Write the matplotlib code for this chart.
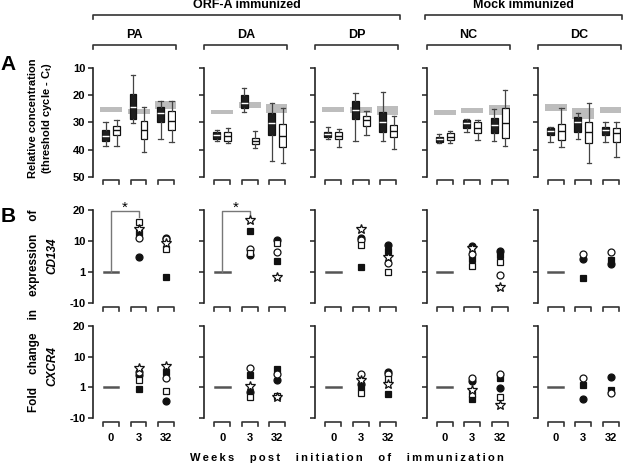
import numpy as np
import matplotlib
matplotlib.use('Agg')
import matplotlib.pyplot as plt
from matplotlib.lines import Line2D
from matplotlib import transforms

plt.rcParams['font.family'] = ['Liberation Sans', 'DejaVu Sans']
plt.rcParams['font.weight'] = 'bold'
plt.rcParams['mathtext.fontset'] = 'custom'
plt.rcParams['mathtext.rm'] = 'Liberation Sans:bold'
plt.rcParams['mathtext.it'] = 'Liberation Sans:bold'
plt.rcParams['mathtext.bf'] = 'Liberation Sans:bold'

groups = ['PA', 'DA', 'DP', 'NC', 'DC']
weeks = ['0', '3', '32']

# box stats per week: [whisker low, q1, median, q3, whisker high] (threshold cycle)
pa_filled = [[29.8, 32.8, 35.0, 36.9, 38.7], [12.6, 19.7, 24.2, 28.7, 30.2], [22.0, 24.2, 26.4, 29.8, 36.2]]
pa_open = [[29.0, 31.3, 32.8, 34.6, 38.7], [24.2, 29.4, 32.8, 36.1, 41.0], [22.0, 25.7, 29.4, 32.8, 37.0]]
da_filled = [[32.8, 33.5, 34.6, 36.0, 36.9], [17.2, 20.0, 22.7, 24.6, 26.0], [22.7, 26.4, 30.2, 34.6, 44.3]]
da_open = [[32.0, 33.5, 35.0, 36.9, 37.6], [33.1, 35.7, 36.9, 38.0, 39.5], [24.6, 30.5, 35.0, 39.1, 44.7]]
dp_filled = [[31.6, 33.5, 34.2, 35.3, 36.2], [19.0, 22.0, 25.3, 28.7, 36.9], [18.9, 26.1, 29.8, 33.5, 36.9]]
dp_open = [[32.4, 33.5, 35.0, 36.2, 39.0], [25.7, 27.6, 29.0, 31.3, 34.6], [27.6, 30.9, 33.1, 35.4, 39.8]]
nc_filled = [[34.2, 35.3, 36.2, 37.1, 37.6], [28.7, 29.0, 30.1, 32.0, 33.5], [25.0, 28.3, 30.9, 33.9, 36.9]]
nc_open = [[33.1, 34.0, 35.3, 36.5, 37.6], [29.0, 29.8, 32.0, 33.9, 36.5], [18.2, 24.6, 30.1, 35.7, 38.7]]
dc_filled = [[31.6, 32.1, 33.1, 34.6, 37.1], [26.4, 27.9, 29.8, 33.5, 36.2], [29.8, 31.6, 32.8, 34.6, 37.1]]
dc_open = [[24.6, 30.5, 33.1, 36.5, 39.0], [22.7, 29.8, 33.5, 37.6, 44.7], [29.8, 32.0, 34.0, 37.1, 42.8]]

# grey bands per week: [low, high]
pa_band = [[24.2, 26.0], [25.0, 26.8], [22.0, 25.0]]
da_band = [[25.3, 26.8], [22.4, 24.6], [23.1, 26.4]]
dp_band = [[24.2, 26.0], [24.2, 26.4], [23.8, 27.2]]
nc_band = [[25.3, 27.2], [24.5, 26.4], [23.4, 27.2]]
dc_band = [[23.1, 25.7], [24.5, 28.7], [24.2, 26.4]]

filled_boxes = [pa_filled, da_filled, dp_filled, nc_filled, dc_filled]
open_boxes = [pa_open, da_open, dp_open, nc_open, dc_open]
bands = [pa_band, da_band, dp_band, nc_band, dc_band]

# fold change per animal: filled circle, open circle, filled square, open square, open star
cd134_wk3 = [[5.3, 11.0, 12.5, 16.0, 14.0],
             [5.8, 7.7, 13.2, 6.6, 16.8],
             [11.0, 10.3, 2.4, 8.8, 13.9],
             [8.5, 6.2, 4.8, 2.7, 8.0],
             [4.8, 6.2, -1.1, np.nan, np.nan]]
cd134_wk32 = [[11.0, 10.5, -0.8, 7.7, 9.4],
              [10.3, 6.8, 4.2, 9.4, -0.8],
              [8.8, 3.6, 7.2, 1.0, 5.5],
              [7.1, -0.1, 5.8, 3.9, -4.3],
              [3.3, 6.8, 4.5, np.nan, np.nan]]
cxcr4_wk3 = [[4.6, 5.4, 0.4, 3.1, 6.8],
             [-0.8, 6.8, 4.5, -2.5, 1.3],
             [1.9, 4.8, 1.0, -1.1, 3.1],
             [3.0, 3.6, -3.3, -1.5, -0.1],
             [-3.3, 3.6, 1.6, np.nan, np.nan]]
cxcr4_wk32 = [[-4.0, 3.6, 5.6, -0.4, 7.4],
              [3.1, 5.0, 6.5, -2.2, -2.5],
              [5.4, 4.8, -1.5, 3.3, 1.9],
              [0.6, 5.0, 3.6, -2.5, -5.4],
              [3.9, -1.1, -0.1, np.nan, np.nan]]

fold_ticks = [-10, 1, 10, 20]
ct_ticks = [10, 20, 30, 40, 50]

markers = ['o', 'o', 's', 's', '*']
faces = ['#111111', 'white', '#111111', 'white', 'white']
msizes = [5, 5, 5, 5, 7.5]
order = [0, 2, 1, 3, 4]

W, H = 624, 465
fig = plt.figure(figsize=(W / 100, H / 100), dpi=100)


def fx(px):
    return px / W


def fy(py):
    return 1 - py / H


def fold_fwd(v):
    return np.interp(v, fold_ticks, [0, 1, 2, 3])


def fold_inv(p):
    return np.interp(p, [0, 1, 2, 3], fold_ticks)


def new_axes(col, top, bottom):
    left = 93 + 111.2 * col
    ax = fig.add_axes([fx(left), fy(bottom), fx(83), (bottom - top) / H])
    ax.set_xlim(-0.655, 2.363)
    for s in ['top', 'right', 'bottom']:
        ax.spines[s].set_visible(False)
    ax.spines['left'].set_linewidth(1.2)
    ax.spines['left'].set_color('#222222')
    ax.tick_params(axis='y', direction='out', length=3.5, width=1.1,
                   color='#222222', labelsize=8, pad=2)
    ax.tick_params(axis='x', length=0)
    ax.set_xticks([])
    ax.patch.set_alpha(0)
    # segmented x axis brackets under each week
    hpx = bottom - top
    tr = transforms.blended_transform_factory(ax.transData, ax.transAxes)
    for i in range(3):
        ax.plot([i - 0.29, i - 0.29, i + 0.29, i + 0.29],
                [-7.5 / hpx, -3.5 / hpx, -3.5 / hpx, -7.5 / hpx],
                transform=tr, color='#333333', lw=1.2, clip_on=False)
    return ax


xpos = np.arange(3)
for c, g in enumerate(groups):
    # row A: box plots
    ax = new_axes(c, 68, 177)
    ax.set_ylim(50, 10)
    ax.set_yticks(ct_ticks)
    lo = np.array([b[0] for b in bands[c]])
    hi = np.array([b[1] for b in bands[c]])
    ax.bar(xpos, hi - lo, bottom=lo, width=0.8, color='#bdbdbd', zorder=1)
    for boxes, off, fc, mc in [(filled_boxes[c], -0.2, '#1e1e1e', 'white'),
                               (open_boxes[c], 0.2, 'white', '#111111')]:
        stats = [dict(whislo=b[0], q1=b[1], med=b[2], q3=b[3], whishi=b[4])
                 for b in boxes]
        ax.bxp(stats, positions=xpos + off, widths=0.25, showfliers=False,
               patch_artist=True, capwidths=0.16, manage_ticks=False,
               boxprops=dict(facecolor=fc, edgecolor='#111111', lw=0.9),
               medianprops=dict(color=mc, lw=1.0),
               whiskerprops=dict(color='#444444', lw=0.9),
               capprops=dict(color='#444444', lw=0.9),
               zorder=3)
    if c > 0:
        ax.set_yticklabels([])
    ax.set_xlim(-0.655, 2.363)

    # group header bracket
    tra = ax.transAxes
    ax.plot([0, 0, 1, 1], [1 + 19 / 109, 1 + 23 / 109, 1 + 23 / 109, 1 + 19 / 109],
            transform=tra, color='#333333', lw=1.2, clip_on=False)
    ax.text(0.5, 1 + 33 / 109, g, transform=tra, ha='center', va='center',
            fontsize=9)

    # rows B: fold change scatter
    for r, (top, bottom, wk3, wk32) in enumerate([(210, 303, cd134_wk3, cd134_wk32),
                                                   (326, 418, cxcr4_wk3, cxcr4_wk32)]):
        bx = new_axes(c, top, bottom)
        bx.set_yscale('function', functions=(fold_fwd, fold_inv))
        bx.set_ylim(-10, 20)
        bx.set_yticks(fold_ticks)
        bx.set_yticks([], minor=True)
        bx.yaxis.set_major_formatter(matplotlib.ticker.FixedFormatter([str(t) for t in fold_ticks]))
        if c > 0:
            bx.set_yticklabels([])
        bx.plot([-0.27, 0.27], [1, 1], color='#555555', lw=1.8)
        for k in order:
            for x, vals in [(1, wk3), (2, wk32)]:
                v = vals[c][k]
                if np.isnan(v):
                    continue
                bx.plot([x], [v], marker=markers[k], ms=msizes[k], mfc=faces[k],
                        mec='#111111', mew=0.9, ls='none', zorder=4, clip_on=False)
        bx.set_xlim(-0.655, 2.363)
        if r == 0 and c < 2:
            bx.plot([0, 0, 1, 1], [1, 19.8, 19.8, 17.6], color='#777777',
                    lw=1.0, clip_on=False)
            trb = transforms.blended_transform_factory(bx.transData, bx.transAxes)
            bx.text(0.5, 0.985, '*', transform=trb, ha='center', va='baseline',
                    fontsize=11, fontweight='normal')
        if r == 1:
            bx.set_xticks(xpos)
            bx.set_xticklabels(weeks, fontsize=8)
            bx.tick_params(axis='x', length=0, pad=11)

# treatment headers
for x0, x1, name in [(93, 400, 'ORF-A immunized'), (425, 622, 'Mock immunized')]:
    fig.add_artist(Line2D([fx(x0), fx(x0), fx(x1), fx(x1)],
                          [fy(19), fy(15), fy(15), fy(19)],
                          transform=fig.transFigure, color='#333333', lw=1.2))
    fig.text(fx((x0 + x1) / 2), fy(5), name, ha='center', va='center', fontsize=9)

# panel letters
fig.text(fx(8), fy(65), 'A', ha='center', va='center', fontsize=15)
fig.text(fx(8), fy(216), 'B', ha='center', va='center', fontsize=15)

# axis labels
fig.text(fx(33.5), fy(118), 'Relative concentration', rotation=90,
         ha='center', va='center', fontsize=8)
fig.text(fx(47), fy(118), '(threshold cycle - C$_t$)', rotation=90,
         ha='center', va='center', fontsize=8)
fig.text(fx(34), fy(311), 'Fold    change    in    expression    of', rotation=90,
         ha='center', va='center', fontsize=8.5)
fig.text(fx(52), fy(256), 'CD134', rotation=90, ha='center', va='center',
         fontsize=8.5, fontstyle='italic')
fig.text(fx(52), fy(366), 'CXCR4', rotation=90, ha='center', va='center',
         fontsize=8.5, fontstyle='italic')

xlabel_words = ['Weeks', 'post', 'initiation', 'of', 'immunization']
fig.text(fx(347), fy(458), '     '.join('\u2009'.join(w) for w in xlabel_words),
         ha='center', va='center', fontsize=8)

fig.savefig('out.png', dpi=100)
